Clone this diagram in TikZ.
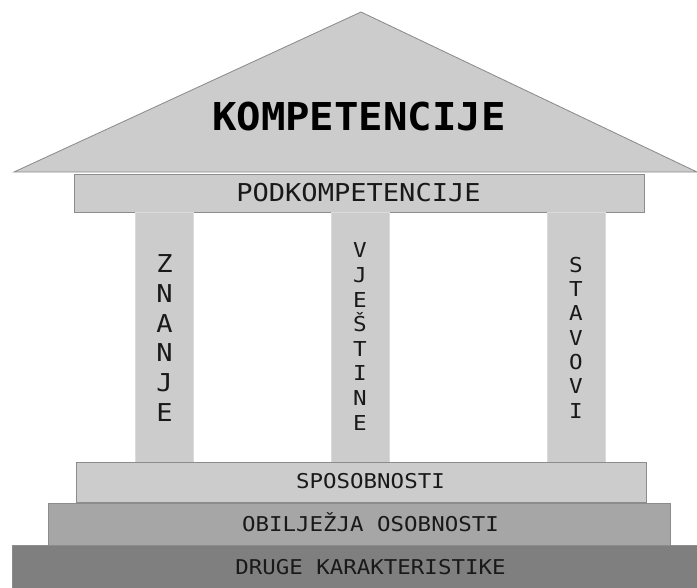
\documentclass[tikz,border=0pt]{standalone}
\usepackage{fontspec}
\setmonofont{DejaVu Sans Mono}
\definecolor{stone}{HTML}{CCCCCC}
\definecolor{midstone}{HTML}{A6A6A6}
\definecolor{darkstone}{HTML}{7F7F7F}
\definecolor{edge}{HTML}{8C8C8C}
\tikzset{
    block/.style={draw=edge, line width=0.6pt},
    pillar/.style={fill=stone, draw=stone!70!white, line width=0.5pt},
    label/.style={anchor=base, xscale=1.1, text=black!90, font=\ttfamily\fontsize{14.5}{16}\selectfont},
}
\begin{document}
\begin{tikzpicture}[x=0.025cm, y=-0.025cm]
        \useasboundingbox (0,0) rectangle (697,587);

        % roof
        \filldraw[block, fill=stone] (14,172) -- (361,12) -- (697,172) -- cycle;
        \node[anchor=base, xscale=1.06, font=\ttfamily\bfseries\fontsize{27.3}{30}\selectfont] (komp) at (359,130.5) {KOMPETENCIJE};

        % beam
        \filldraw[block, fill=stone] (74,174) rectangle (644,212);
        \node[label, font=\ttfamily\fontsize{17.5}{20}\selectfont] (podkomp) at (358.5,201) {PODKOMPETENCIJE};

        % pillars
        \foreach \x/\y/\fs/\sp/\name/\txt in {164.5/338/17.5/21.2/znanje/{Z\\N\\A\\N\\J\\E},
                                              360/336.5/14.6/17.5/vjestine/{V\\J\\E\\Š\\T\\I\\N\\E},
                                              576/337.5/14.6/17.3/stavovi/{S\\T\\A\\V\\O\\V\\I}} {
            \filldraw[pillar] (\x-29,212) rectangle (\x+29,462);
            \node[align=center, xscale=1.1, text=black!90, font=\ttfamily\fontsize{\fs}{\sp}\selectfont] (\name) at (\x,\y) {\txt};
        }

        % steps
        \filldraw[block, fill=stone] (76,462) rectangle (646,502);
        \node[label] (sposob) at (370.5,488) {SPOSOBNOSTI};
        \filldraw[block, fill=midstone] (48,503) rectangle (670,545);
        \node[label] (osob) at (370.5,531) {OBILJEŽJA OSOBNOSTI};
        \filldraw[block, fill=darkstone] (12,545) rectangle (697,590);
        \node[label] (druge) at (370.5,574) {DRUGE KARAKTERISTIKE};
\end{tikzpicture}
\end{document}
